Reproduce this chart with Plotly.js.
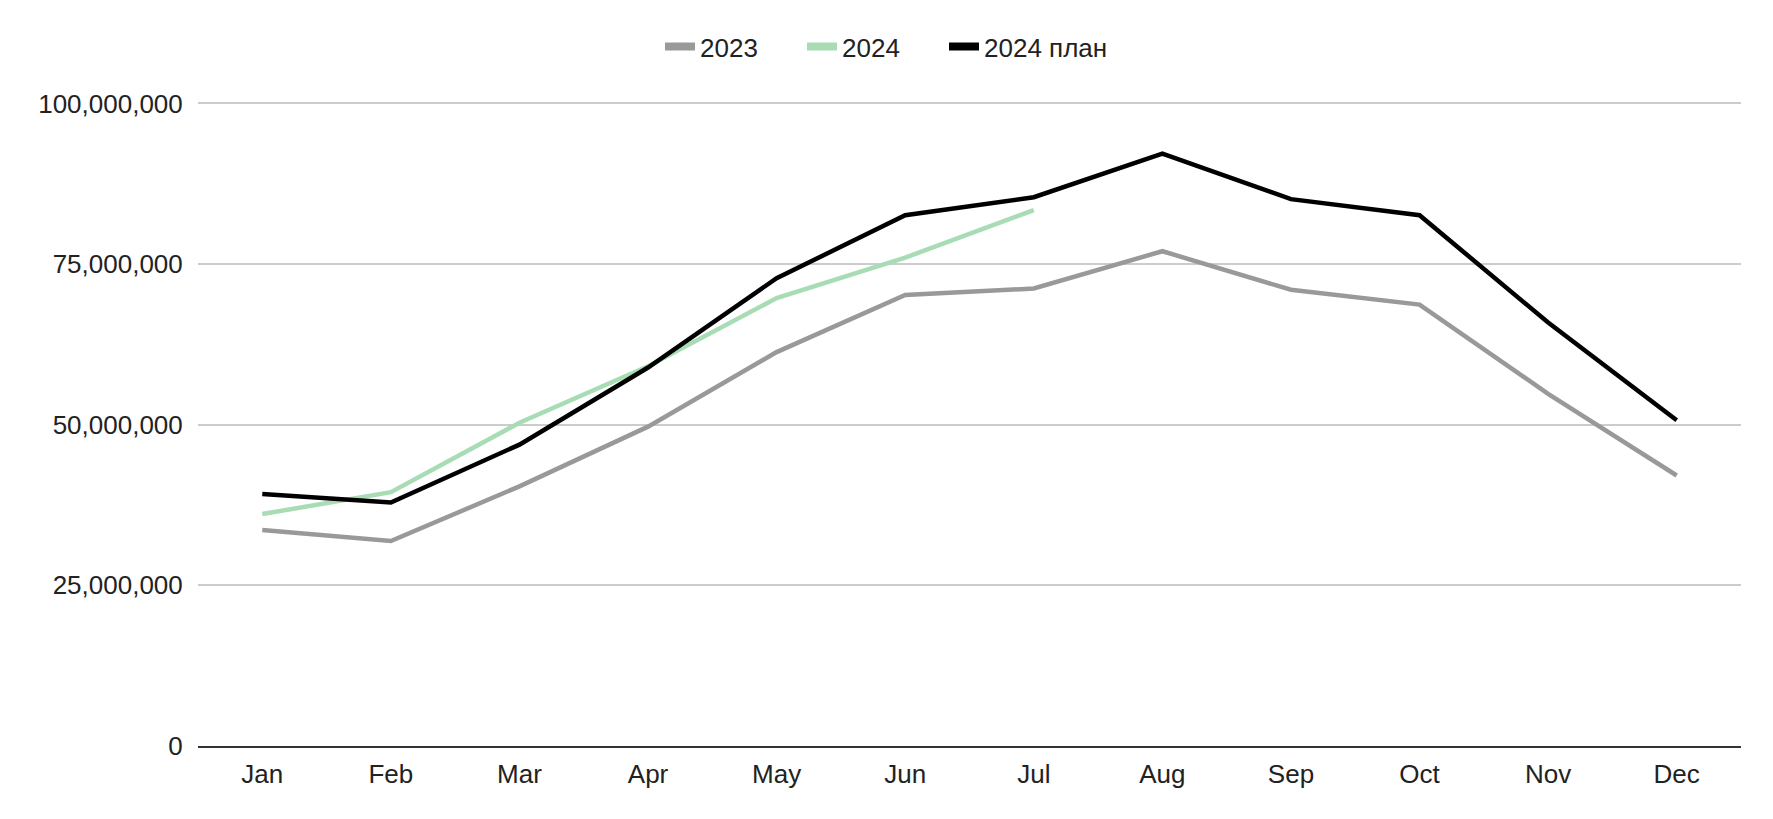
<!DOCTYPE html>
<html>
<head>
<meta charset="utf-8">
<script src="https://cdn.plot.ly/plotly-3.0.1.min.js"></script>
<style>html,body{margin:0;padding:0;background:#fff;}#chart{width:1773px;height:819px;}</style>
</head>
<body>
<div id="chart"></div>
<script>
const months = ["Jan","Feb","Mar","Apr","May","Jun","Jul","Aug","Sep","Oct","Nov","Dec"];
const sales2023 = [33.6e6, 31.9e6, 40.4e6, 49.7e6, 61.3e6, 70.2e6, 71.2e6, 77.0e6, 71.0e6, 68.7e6, 54.8e6, 42.1e6];
const sales2024 = [36.1e6, 39.5e6, 50.3e6, 59.1e6, 69.7e6, 76.0e6, 83.4e6];
const plan2024 = [39.2e6, 37.9e6, 46.9e6, 58.9e6, 72.8e6, 82.6e6, 85.4e6, 92.2e6, 85.1e6, 82.6e6, 65.9e6, 50.7e6];
const seriesNames = ["2023", "2024", "2024 план"];
const seriesColors = ["#999999", "#a8dcb4", "#000000"];
const yTicks = [0, 25e6, 50e6, 75e6, 100e6];

const font = "Liberation Sans, Arial, sans-serif";
const seriesData = [sales2023, sales2024, plan2024];
const legendWidths = [97, 97, 0];
const traces = [];
seriesData.forEach((vals, i) => {
  traces.push({x: months.slice(0, vals.length), y: vals, name: seriesNames[i], type: "scatter",
    mode: "lines", line: {color: seriesColors[i], width: 4.5}, legendgroup: "g" + i, showlegend: false});
});
// legend-only entries (no data) giving thick swatches
seriesNames.forEach((n, i) => {
  traces.push({x: [null], y: [null], name: n, type: "scatter", mode: "lines",
    line: {color: seriesColors[i], width: 8}, legendgroup: "g" + i, showlegend: true,
    legendwidth: legendWidths[i], hoverinfo: "skip"});
});

const layout = {
  width: 1773, height: 819,
  margin: {l: 198, r: 32, t: 97, b: 73},
  paper_bgcolor: "#ffffff", plot_bgcolor: "#ffffff",
  font: {family: font, size: 26, color: "#222222"},
  showlegend: true,
  legend: {orientation: "h", xref: "container", yref: "container", x: 0.5, xanchor: "center",
           y: 0.943, yanchor: "middle", font: {family: font, size: 26, color: "#222222"},
           itemwidth: 30, tracegroupgap: 0},
  xaxis: {type: "category", range: [-0.5, 11.5], showgrid: false, zeroline: false,
          showline: true, linecolor: "#333333", linewidth: 2, ticks: "outside", ticklen: 4,
          tickcolor: "rgba(0,0,0,0)", tickfont: {family: font, size: 26, color: "#222222"},
          fixedrange: true},
  yaxis: {range: [0, 101e6], tickvals: yTicks, tickformat: ",d", showgrid: true,
          gridcolor: "#cccccc", gridwidth: 2, zeroline: false, showline: false,
          ticks: "outside", ticklen: 9, tickcolor: "rgba(0,0,0,0)",
          tickfont: {family: font, size: 26, color: "#222222"}, fixedrange: true}
};
Plotly.newPlot("chart", traces, layout, {displayModeBar: false, staticPlot: true});
</script>
</body>
</html>
